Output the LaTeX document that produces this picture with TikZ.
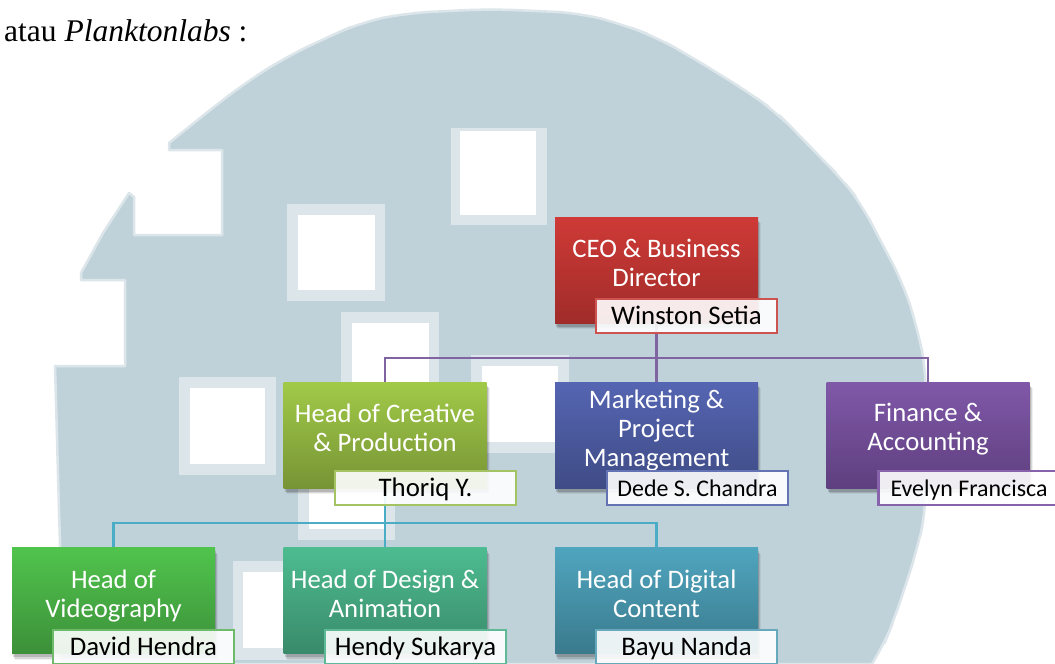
\documentclass[tikz,border=0pt]{standalone}
\usepackage{fontspec}
\setmainfont{Carlito}
\newfontfamily\serifface{Liberation Serif}
\usetikzlibrary{shadows}
\pgfdeclarelayer{back}
\pgfsetlayers{back,main}
\definecolor{wmark}{HTML}{C0D2D9}
\definecolor{wring}{HTML}{DCE6EA}
\definecolor{linkp}{HTML}{8064A2}
\definecolor{linkt}{HTML}{4BACC6}
\tikzset{
  softshadow/.style={
    drop shadow={shadow xshift=3pt,shadow yshift=-6pt,opacity=.06,fill=black},
    drop shadow={shadow xshift=2pt,shadow yshift=-5pt,opacity=.1,fill=black},
    drop shadow={shadow xshift=1pt,shadow yshift=-3.5pt,opacity=.15,fill=black}},
  orgbox/.style={rectangle,inner sep=0pt,minimum width=203pt,minimum height=106pt,softshadow},
  boxtext/.style={text=white,align=center,font=\fontsize{26.7}{29}\selectfont,inner sep=0pt},
  namebox/.style={rectangle,fill=white,fill opacity=.9,text opacity=1,text=black,line width=2.6pt,
    minimum width=181pt,minimum height=34pt,inner sep=0pt,text height=21pt,text depth=5pt,
    font=\fontsize{26.8}{29}\selectfont},
  namesmall/.style={namebox,font=\fontsize{23.9}{26}\selectfont},
  cred/.style={top color=cRedA,bottom color=cRedB},
  cblue/.style={top color=cBlueA,bottom color=cBlueB},
  cpurp/.style={top color=cPurpA,bottom color=cPurpB},
  clime/.style={top color=cLimeA,bottom color=cLimeB},
  cgreen/.style={top color=cGreenA,bottom color=cGreenB},
  cteal/.style={top color=cTealA,bottom color=cTealB},
  ccyan/.style={top color=cCyanA,bottom color=cCyanB},
  link/.style={line width=2.8pt,line cap=butt,line join=miter},
  wsquare/.style={fill=wring},
  winner/.style={fill=white}
}
\definecolor{cRedA}{HTML}{CF3A36}\definecolor{cRedB}{HTML}{A02C2A}
\definecolor{cBlueA}{HTML}{5565B2}\definecolor{cBlueB}{HTML}{3F4C86}
\definecolor{cPurpA}{HTML}{8058A8}\definecolor{cPurpB}{HTML}{5F3F7F}
\definecolor{cLimeA}{HTML}{A1CA48}\definecolor{cLimeB}{HTML}{779435}
\definecolor{cGreenA}{HTML}{50C44D}\definecolor{cGreenB}{HTML}{3C9039}
\definecolor{cTealA}{HTML}{4DBC90}\definecolor{cTealB}{HTML}{398A6A}
\definecolor{cCyanA}{HTML}{4FA5BE}\definecolor{cCyanB}{HTML}{3A7A8D}
\definecolor{bRed}{HTML}{CC5350}
\definecolor{bBlue}{HTML}{6373B3}
\definecolor{bPurp}{HTML}{8763AC}
\definecolor{bLime}{HTML}{A4C463}
\definecolor{bGreen}{HTML}{6CBA6A}
\definecolor{bTeal}{HTML}{5DB996}
\definecolor{bCyan}{HTML}{66A9BC}
\begin{document}
\begin{tikzpicture}[x=1pt,y=-1pt]
\useasboundingbox (0,0) rectangle (1055,664);
\begin{pgfonlayer}{back}
\fill[white] (0,0) rectangle (1055,664);
% watermark silhouette
\draw[wring,line width=2.5pt,fill=wmark,line join=round]
  (60,664) -- (60,545) -- (55,366) -- (125,366) -- (125,280) -- (81,280) -- (81,273)
  -- (103,233) -- (129,193) -- (134,197) -- (134,235) -- (222,235) -- (222,150) -- (169,150) -- (169,143)
  [rounded corners=25pt] -- (210,110) -- (245,83) -- (286,57) -- (328,37) -- (362,22) -- (407,13)
  -- (490,9) -- (581,13) -- (624,25) -- (656,37) -- (688,55) -- (719,74) -- (748,92)
  -- (776,112) -- (797,133) -- (818,155) -- (840,177) -- (861,203) -- (880,240)
  -- (903,283) -- (917,327) -- (926,370) -- (926,510) -- (917,550) -- (905,587)
  -- (894,620) -- (883,647) [sharp corners] -- (872,664) -- cycle;
% white squares of the watermark
\fill[wsquare] (451,128) rectangle (547,225);
\fill[winner] (460,131) rectangle (536,215);
\fill[wsquare] (287,204) rectangle (385,301);
\fill[winner] (298,215) rectangle (375,290);
\fill[wsquare] (341,312) rectangle (439,409);
\fill[winner] (352,323) rectangle (429,398);
\fill[wsquare] (179,377) rectangle (276,475);
\fill[winner] (190,388) rectangle (265,464);
\fill[wsquare] (471,355) rectangle (569,453);
\fill[winner] (482,366) rectangle (558,442);
\fill[wsquare] (298,445) rectangle (395,540);
\fill[winner] (309,456) rectangle (384,529);
\fill[wsquare] (233,561) rectangle (330,660);
\fill[winner] (243,572) rectangle (320,648);
\end{pgfonlayer}

\node[anchor=base west,inner sep=0pt,font=\fontsize{31.5}{36}\serifface] (intro) at (4,41)
  {atau \textit{Planktonlabs} :};

\node[orgbox,cred,label={[boxtext,yshift=7pt]center:CEO \& Business\\Director}] (ceo) at (656.5,270) {};
\node[namebox,draw=bRed] (ceoN) at (686.5,316) {Winston Setia};

\node[orgbox,clime,label={[boxtext,yshift=7pt]center:Head of Creative\\\& Production}] (cre) at (385,435) {};
\node[namebox,draw=bLime] (creN) at (425.5,488) {Thoriq Y.};

\node[orgbox,cblue,label={[boxtext,yshift=4.5pt]center:Marketing \&\\Project\\Management}] (mkt) at (656.5,435) {};
\node[namesmall,draw=bBlue] (mktN) at (697.5,488) {Dede S. Chandra};

\node[orgbox,cpurp,label={[boxtext,yshift=5.5pt]center:Finance \&\\Accounting}] (fin) at (928,435) {};
\node[namesmall,draw=bPurp] (finN) at (969,488) {Evelyn Francisca};

\node[orgbox,cgreen,label={[boxtext,yshift=4.5pt]center:Head of\\Videography}] (vid) at (113.5,600.5) {};
\node[namebox,draw=bGreen] (vidN) at (143.5,647) {David Hendra};

\node[orgbox,cteal,label={[boxtext,yshift=7pt]center:Head of Design \&\\Animation}] (des) at (385,600.5) {};
\node[namebox,draw=bTeal] (desN) at (415.5,647) {Hendy Sukarya};

\node[orgbox,ccyan,label={[boxtext,yshift=7pt]center:Head of Digital\\Content}] (dig) at (656.5,600.5) {};
\node[namebox,draw=bCyan] (digN) at (686.5,647) {Bayu Nanda};

\coordinate (busP) at (656.5,358);
\coordinate (busT) at (385,523);
\begin{pgfonlayer}{back}
\draw[link,linkp] (ceo.south) -- (mkt.north);
\draw[link,linkp] (cre.north) |- (busP) -| (fin.north);
\draw[link,linkt] (cre.south) -- (des.north);
\draw[link,linkt] (vid.north) |- (busT) -| (dig.north);
\end{pgfonlayer}
\end{tikzpicture}
\end{document}
